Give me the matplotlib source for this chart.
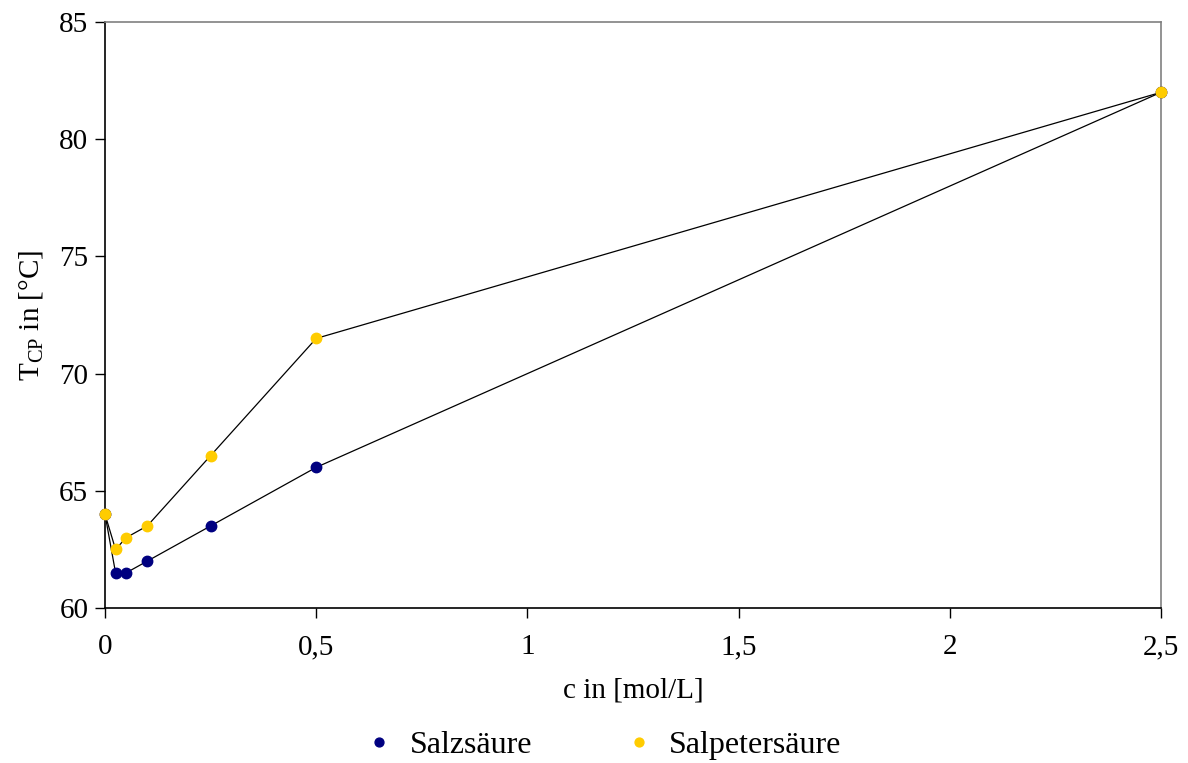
import matplotlib
matplotlib.use("Agg")
import matplotlib.pyplot as plt
from matplotlib.ticker import FuncFormatter, MultipleLocator

plt.rcParams['font.family'] = ['Liberation Serif', 'DejaVu Serif']
plt.rcParams['mathtext.fontset'] = 'custom'
plt.rcParams['mathtext.rm'] = 'Liberation Serif'
plt.rcParams['mathtext.it'] = 'Liberation Serif:italic'

# Concentration in mol/L
conc = [0, 0.025, 0.05, 0.1, 0.25, 0.5, 2.5]
# Cloud point temperatures in °C
salzsaeure = [64, 61.5, 61.5, 62, 63.5, 66, 82]
salpetersaeure = [64, 62.5, 63, 63.5, 66.5, 71.5, 82]
series_names = ['Salzsäure', 'Salpetersäure']
series_colors = ['#000080', '#FFCC00']

fig = plt.figure(figsize=(11.88, 7.63), dpi=100)
ax = fig.add_axes([105/1188, 1 - 608/763, (1161 - 105)/1188, (608 - 22)/763])

for vals, name, col in zip([salzsaeure, salpetersaeure], series_names, series_colors):
    ax.plot(conc, vals, color='black', lw=0.9, zorder=2)
    ax.plot(conc, vals, linestyle='none', marker='o', ms=7.5, mfc=col,
            mec=col, label=name, zorder=3, clip_on=False)

ax.set_xlim(0, 2.5)
ax.set_ylim(60, 85)
ax.xaxis.set_major_locator(MultipleLocator(0.5))
ax.yaxis.set_major_locator(MultipleLocator(5))

def de_fmt(v, pos):
    return ('%g' % v).replace('.', ',')

ax.xaxis.set_major_formatter(FuncFormatter(de_fmt))
ax.tick_params(direction='out', length=7, width=1, labelsize=21)
ax.tick_params(axis='x', pad=12)
ax.tick_params(axis='y', pad=5)

for side in ['left', 'bottom']:
    ax.spines[side].set_color('black')
    ax.spines[side].set_linewidth(1.2)
for side in ['top', 'right']:
    ax.spines[side].set_color('#808080')
    ax.spines[side].set_linewidth(1.2)

ax.set_xlabel('c in [mol/L]', fontsize=21, labelpad=12)
ax.set_ylabel(r'T$_{\mathrm{CP}}$ in [°C]', fontsize=21, labelpad=10)

fig.legend(loc='center', bbox_to_anchor=(604/1188, 1 - 745/763), ncol=2,
           frameon=False, fontsize=23, handlelength=0.8, columnspacing=2.95,
           handletextpad=0.55, markerscale=0.85)

fig.savefig('out.png', dpi=100)
